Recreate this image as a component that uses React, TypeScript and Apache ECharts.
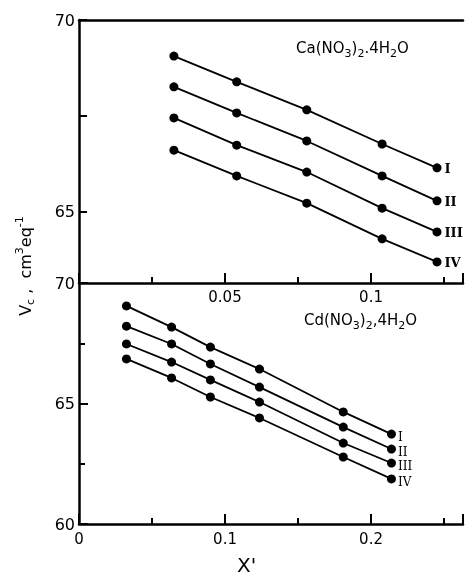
import React, { useEffect, useRef } from "react";
import * as echarts from "echarts";

// Ca(NO3)2.4H2O panel
const caX = [0.0325, 0.054, 0.078, 0.1038, 0.1226];
const caI = [69.06, 68.39, 67.66, 66.77, 66.15];
const caII = [68.26, 67.58, 66.85, 65.94, 65.29];
const caIII = [67.45, 66.74, 66.04, 65.1, 64.48];
const caIV = [66.61, 65.94, 65.23, 64.3, 63.7];

// Cd(NO3)2.4H2O panel
const cdX = [0.0325, 0.0634, 0.09, 0.1236, 0.181, 0.214];
const cdI = [69.05, 68.17, 67.34, 66.43, 64.65, 63.73];
const cdII = [68.21, 67.47, 66.64, 65.68, 64.02, 63.11];
const cdIII = [67.47, 66.72, 65.98, 65.06, 63.36, 62.53];
const cdIV = [66.85, 66.06, 65.27, 64.4, 62.78, 61.87];

const seriesNames = ["I", "II", "III", "IV"];
const topYLabels = [65, 70];
const topYTicks = [65, 67.5, 70];

const FONT = "DejaVu Sans";

function makeSeries(xs: number[], ys: number[], name: string, panel: number) {
  const data = xs.map((x, i) => {
    if (i === xs.length - 1) {
      return {
        value: [x, ys[i]],
        label: {
          show: true,
          position: "right",
          formatter: name,
          distance: panel === 0 ? 3 : 2,
          offset: panel === 0 ? [0, 1] : [0, 3],
          fontFamily: "DejaVu Serif",
          fontWeight: panel === 0 ? "bold" : "normal",
          fontSize: panel === 0 ? 13 : 12,
          color: "#000",
        },
      };
    }
    return { value: [x, ys[i]] };
  });
  return {
    type: "line",
    name: name + (panel === 0 ? "ca" : "cd"),
    xAxisIndex: panel === 0 ? 0 : 2,
    yAxisIndex: panel,
    data,
    symbol: "circle",
    symbolSize: 9,
    showSymbol: true,
    lineStyle: { color: "#000", width: 1.8 },
    itemStyle: { color: "#000" },
    silent: true,
  };
}

const mkLine = () => ({ show: true, onZero: false, lineStyle: { color: "#000", width: 2.5 } });
const mkTick = (len: number, extra: any = {}) => ({
  show: true,
  inside: true,
  length: len,
  lineStyle: { color: "#000", width: 2 },
  ...extra,
});
const mkMinor = (len: number) => ({ show: true, splitNumber: 2, length: len, lineStyle: { color: "#000", width: 2 } });
const labelStyle = () => ({ color: "#000", fontFamily: FONT, fontSize: 15 });

const fmt = (v: number) => {
  if (Math.abs(v) < 1e-9) return "0";
  return String(Math.round(v * 1000) / 1000);
};

export default function App() {
  const ref = useRef<HTMLDivElement>(null);
  useEffect(() => {
    if (!ref.current) return;
    const chart = echarts.init(ref.current, null, { renderer: "svg" });
    const subRich = {
      m: { fontFamily: FONT, fontSize: 15, color: "#000", lineHeight: 22, verticalAlign: "middle" },
      s: { fontFamily: FONT, fontSize: 11, color: "#000", lineHeight: 22, verticalAlign: "bottom" },
    };
    chart.setOption({
      animation: false,
      grid: [
        { left: 79, top: 20, width: 384, height: 263, outerBoundsMode: "none" },
        { left: 79, top: 283, width: 384, height: 241, outerBoundsMode: "none" },
      ],
      xAxis: [
        {
          gridIndex: 0,
          type: "value",
          min: 0,
          max: 0.1315,
          interval: 0.05,
          position: "bottom",
          axisLine: mkLine(),
          axisTick: mkTick(10),
          minorTick: mkMinor(6),
          axisLabel: {
            ...labelStyle(),
            margin: 6,
            showMinLabel: false,
            showMaxLabel: false,
            formatter: (v: number) => (v === 0 ? "" : fmt(v)),
          },
          splitLine: { show: false },
          minorSplitLine: { show: false },
        },
        {
          gridIndex: 0,
          type: "value",
          min: 0,
          max: 0.1315,
          position: "top",
          axisLine: mkLine(),
          axisTick: { show: false },
          axisLabel: { show: false },
          splitLine: { show: false },
        },
        {
          gridIndex: 1,
          type: "value",
          min: 0,
          max: 0.263,
          interval: 0.1,
          position: "bottom",
          axisLine: mkLine(),
          axisTick: mkTick(10),
          minorTick: mkMinor(6),
          axisLabel: {
            ...labelStyle(),
            margin: 7,
            showMaxLabel: false,
            formatter: (v: number) => fmt(v),
          },
          splitLine: { show: false },
          minorSplitLine: { show: false },
        },
      ],
      yAxis: [
        {
          gridIndex: 0,
          type: "value",
          min: 63.15,
          max: 70,
          axisLine: mkLine(),
          axisTick: mkTick(8, { customValues: topYTicks }),
          axisLabel: { ...labelStyle(), fontSize: 16, margin: 4, customValues: topYLabels, formatter: (v: number) => fmt(v) },
          splitLine: { show: false },
        },
        {
          gridIndex: 1,
          type: "value",
          min: 60,
          max: 70,
          interval: 5,
          axisLine: mkLine(),
          axisTick: mkTick(9),
          minorTick: mkMinor(6),
          axisLabel: { ...labelStyle(), fontSize: 16, margin: 4, formatter: (v: number) => fmt(v) },
          splitLine: { show: false },
          minorSplitLine: { show: false },
        },
      ],
      graphic: [
        {
          type: "text",
          left: 296,
          top: 40,
          style: {
            text: "{m|Ca(NO}{s|3}{m|)}{s|2}{m|.4H}{s|2}{m|O}",
            rich: subRich,
          },
        },
        {
          type: "text",
          left: 304,
          top: 312,
          style: {
            text: "{m|Cd(NO}{s|3}{m|)}{s|2}{m|,4H}{s|2}{m|O}",
            rich: subRich,
          },
        },
        {
          type: "text",
          x: 25,
          y: 266,
          rotation: Math.PI / 2,
          style: {
            text: "{m|V}{s|c}{m| ,  cm}{p|3}{m|eq}{p|-1}",
            align: "center",
            verticalAlign: "middle",
            rich: {
              m: { fontFamily: FONT, fontSize: 16, color: "#000", lineHeight: 22, verticalAlign: "middle" },
              s: { fontFamily: FONT, fontSize: 11, color: "#000", lineHeight: 22, verticalAlign: "bottom" },
              p: { fontFamily: FONT, fontSize: 11, color: "#000", lineHeight: 22, verticalAlign: "top" },
            },
          },
        },
        {
          type: "text",
          left: 237,
          top: 555,
          style: { text: "X'", fontFamily: FONT, fontSize: 20, fill: "#000" },
        },
      ],
      series: [
        makeSeries(caX, caI, seriesNames[0], 0),
        makeSeries(caX, caII, seriesNames[1], 0),
        makeSeries(caX, caIII, seriesNames[2], 0),
        makeSeries(caX, caIV, seriesNames[3], 0),
        makeSeries(cdX, cdI, seriesNames[0], 1),
        makeSeries(cdX, cdII, seriesNames[1], 1),
        makeSeries(cdX, cdIII, seriesNames[2], 1),
        makeSeries(cdX, cdIV, seriesNames[3], 1),
      ],
    });
    return () => chart.dispose();
  }, []);
  return <div ref={ref} style={{ position: "fixed", left: 0, top: 0, width: 465, height: 576 }} />;
}
